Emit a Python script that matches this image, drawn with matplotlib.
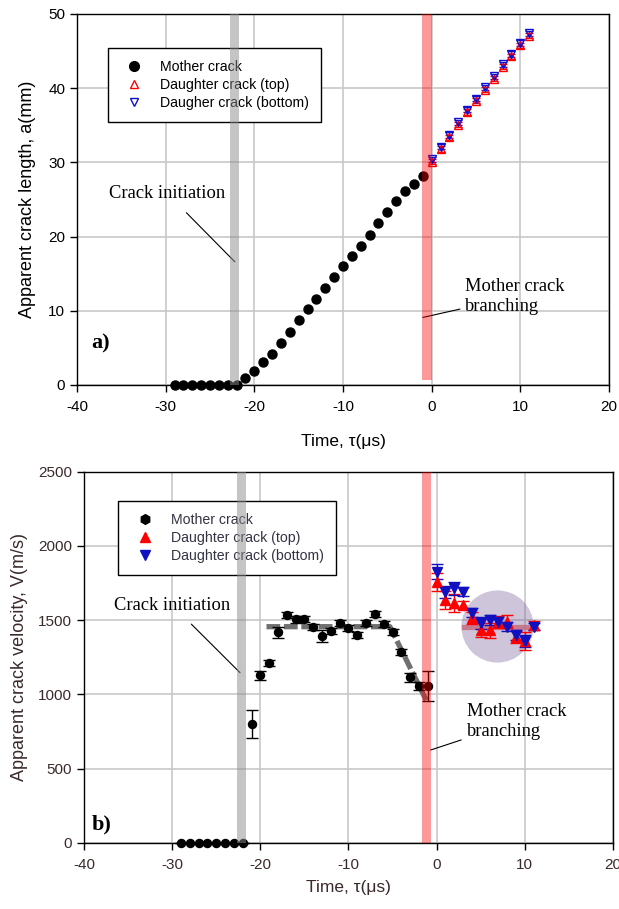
import numpy as np
import matplotlib.pyplot as plt
from matplotlib.lines import Line2D

# ---- data ----
t_mother = np.arange(-29, 0)
a_mother = [0, 0, 0, 0, 0, 0, 0, 0,
            0.9, 1.9, 3.1, 4.2, 5.6, 7.2, 8.7, 10.2, 11.6, 13.1, 14.5, 16.0,
            17.4, 18.7, 20.2, 21.8, 23.3, 24.8, 26.1, 27.1, 28.2]

t_daughter = np.arange(0, 12)
a_top = [30.1, 31.8, 33.4, 35.1, 36.8, 38.3, 39.8, 41.3, 42.9, 44.3, 45.8, 47.1]
a_bottom = [30.4, 32.1, 33.7, 35.4, 37.1, 38.6, 40.1, 41.6, 43.2, 44.6, 46.1, 47.4]
a_err = 0.35

v_mother = [0, 0, 0, 0, 0, 0, 0, 0,
            798, 1128, 1209, 1418, 1532, 1505, 1507, 1453, 1395, 1424, 1478, 1449,
            1400, 1483, 1541, 1476, 1422, 1285, 1114, 1056, 1056]
v_mother_err = [0, 0, 0, 0, 0, 0, 0, 0,
                95, 30, 20, 35, 20, 25, 20, 20, 40, 20, 20, 20,
                20, 20, 20, 20, 20, 20, 30, 30, 100]
v_top = [1759, 1636, 1613, 1602, 1512, 1433, 1433, 1489, 1489, 1388, 1361, 1467]
v_top_err = [60, 60, 60, 30, 40, 45, 50, 40, 45, 40, 60, 30]
v_bottom = [1826, 1691, 1714, 1691, 1550, 1478, 1500, 1489, 1456, 1400, 1361, 1456]
v_bottom_err = [50, 40, 45, 30, 30, 40, 35, 30, 30, 35, 40, 25]

trend_t = [-19.3, -5.3, -1.1]
trend_v = [1456, 1456, 950]
pink_t = [3.1, 11.0]
pink_v = [1456, 1456]

serif = 'Liberation Serif'
sans = 'Liberation Sans'
plt.rcParams['font.family'] = sans
plt.rcParams['axes.unicode_minus'] = False

fig = plt.figure(figsize=(6.19, 9.09), dpi=100)
ax1 = fig.add_axes([0.1244, 0.5765, 0.8595, 0.4081])
ax2 = fig.add_axes([0.1357, 0.0729, 0.8546, 0.4081])

for ax in (ax1, ax2):
    ax.set_xlim(-40, 20)
    ax.set_xticks(np.arange(-40, 21, 10))
    ax.grid(True, color='#c8c8c8', lw=1.2)
    ax.set_axisbelow(True)
    ax.tick_params(direction='out', length=5, width=1, labelsize=11)
    ax.tick_params(axis='x', pad=6)
    for s in ax.spines.values():
        s.set_linewidth(1)

leg_kw = dict(loc='upper left', fontsize=10.2, frameon=True, fancybox=False,
              edgecolor='black', framealpha=1, borderpad=0.85, borderaxespad=0,
              handlelength=2.0, handletextpad=0.85, labelspacing=0.28)

# ---- panel a ----
ax1.set_ylim(0, 50)
ax1.set_yticks(np.arange(0, 51, 10))
ax1.plot(t_mother, a_mother, 'o', color='black', ms=6.5, zorder=3, clip_on=False)
ax1.errorbar(t_daughter, a_top, yerr=a_err, fmt='^', color='red', mfc='none', ms=5.5,
             capsize=3, lw=1, zorder=3)
ax1.errorbar(t_daughter, a_bottom, yerr=a_err, fmt='v', color='#1010d0', mfc='none', ms=5.5,
             capsize=3, lw=1, zorder=3)
ax1.axvspan(-22.8, -21.7, color='#8c8c8c', alpha=0.5, lw=0, zorder=6)
ax1.axvspan(-1.1, 0, ymin=0.013, color='red', alpha=0.4, lw=0, zorder=6)
ax1.set_xlabel('Time, τ(μs)', fontsize=12.5, labelpad=14)
ax1.set_ylabel('Apparent crack length, a(mm)', fontsize=13, labelpad=9)
h1 = [Line2D([], [], ls='none', marker='o', color='black', ms=7),
      Line2D([], [], ls='none', marker='^', color='red', mfc='none', ms=6),
      Line2D([], [], ls='none', marker='v', color='#1010d0', mfc='none', ms=6)]
leg = ax1.legend(h1, ['Mother crack', 'Daughter crack (top)', 'Daugher crack (bottom)'],
                 bbox_to_anchor=(0.058, 0.908), **leg_kw)
leg.get_frame().set_linewidth(1)
leg.set_zorder(5)
ax1.annotate('Crack initiation', xy=(-22.2, 16.6), xytext=(-29.8, 25.8), fontsize=13.3,
             family=serif, ha='center', va='center',
             arrowprops=dict(arrowstyle='-', color='black', lw=0.8, shrinkA=8, shrinkB=0))
ax1.annotate('Mother crack\nbranching', xy=(-1.0, 9.1), xytext=(3.8, 11.9), fontsize=13.3,
             family=serif, ha='left', va='center', linespacing=1.25,
             arrowprops=dict(arrowstyle='-', color='black', lw=0.8, shrinkA=2, shrinkB=0))
ax1.text(-38.4, 5.6, 'a)', fontsize=16, family=serif, fontweight='bold', va='center')

# ---- panel b ----
tc = '#3a2a2a'
ax2.set_ylim(0, 2500)
ax2.set_yticks(np.arange(0, 2501, 500))
ax2.tick_params(labelcolor=tc)
ax2.plot(trend_t, trend_v, color='#707070', lw=3.8, dashes=(2.6, 0.7), zorder=2)
ax2.plot(pink_t, pink_v, color='#f07070', lw=3.8, alpha=0.8, zorder=2)
ax2.scatter([6.9], [1460], s=2700, color=(0.45, 0.35, 0.6), alpha=0.35, lw=0, zorder=2)
ax2.errorbar(t_mother, v_mother, yerr=v_mother_err, fmt='o', color='black', ms=5.8,
             capsize=4, lw=1, zorder=3, clip_on=False)
ax2.errorbar(t_daughter, v_top, yerr=v_top_err, fmt='^', color='red', ms=6.5,
             capsize=4, lw=1, zorder=3)
ax2.errorbar(t_daughter, v_bottom, yerr=v_bottom_err, fmt='v', color='#1010c0', ms=6.5,
             capsize=4, lw=1, zorder=3)
ax2.axvspan(-22.7, -21.6, color='#8c8c8c', alpha=0.5, lw=0, zorder=6)
ax2.axvspan(-1.7, -0.6, color='red', alpha=0.4, lw=0, zorder=6)
ax2.set_xlabel('Time, τ(μs)', fontsize=12.5, color=tc, labelpad=6)
ax2.set_ylabel('Apparent crack velocity, V(m/s)', fontsize=13, color=tc, labelpad=7)
h2 = [Line2D([], [], ls='none', marker='h', color='black', ms=7),
      Line2D([], [], ls='none', marker='^', color='red', ms=7),
      Line2D([], [], ls='none', marker='v', color='#1010c0', ms=7)]
leg2 = ax2.legend(h2, ['Mother crack', 'Daughter crack (top)', 'Daughter crack (bottom)'],
                  bbox_to_anchor=(0.065, 0.922), labelcolor='#333344', **leg_kw)
leg2.get_frame().set_linewidth(1)
leg2.set_zorder(5)
ax2.annotate('Crack initiation', xy=(-22.3, 1146), xytext=(-30.0, 1602), fontsize=13.3,
             family=serif, ha='center', va='center',
             arrowprops=dict(arrowstyle='-', color='black', lw=0.8, shrinkA=8, shrinkB=0))
ax2.annotate('Mother crack\nbranching', xy=(-0.68, 625), xytext=(3.4, 815), fontsize=13.3,
             family=serif, ha='left', va='center', linespacing=1.25,
             arrowprops=dict(arrowstyle='-', color='black', lw=0.8, shrinkA=2, shrinkB=0))
ax2.text(-39.1, 126, 'b)', fontsize=16, family=serif, fontweight='bold', va='center')

fig.savefig('out.png', dpi=100)
